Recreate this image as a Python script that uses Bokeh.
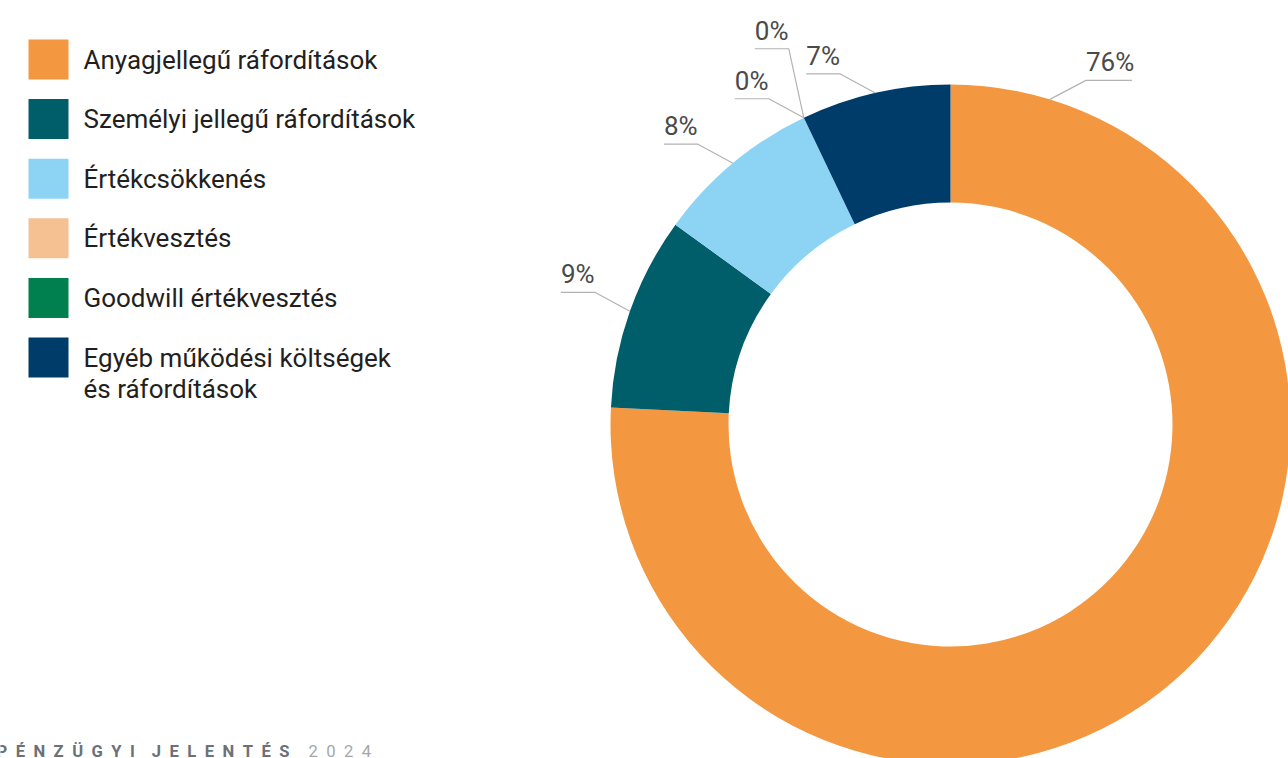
import math
from bokeh.plotting import figure
from bokeh.models import Range1d
from bokeh.embed import file_html
from bokeh.resources import INLINE
from bokeh.core.properties import value

# ---------------- data ----------------
legend_lines = [
    ["Anyagjellegű ráfordítások"],
    ["Személyi jellegű ráfordítások"],
    ["Értékcsökkenés"],
    ["Értékvesztés"],
    ["Goodwill értékvesztés"],
    ["Egyéb működési költségek", "és ráfordítások"],
]
categories = [" ".join(l) for l in legend_lines]
shares = [75.8, 9.2, 7.9, 0.0, 0.0, 7.1]
pct_labels = ["76%", "9%", "8%", "0%", "0%", "7%"]
colors = ["#F39841", "#005E6A", "#8DD4F4", "#F5C192", "#00804F", "#003C69"]
footer_main = "\u2002".join("PÉNZÜGYI") + "\u2002\u2002" + "\u2002".join("JELENTÉS")
footer_year = "\u2002".join("2024")

# ---------------- layout constants ----------------
W, H = 1288, 758
TS = 9  # svg text baseline compensation (px)
def sy(y):  # screen y -> data y
    return H - y

CX, CY = 950, sy(424)
R_OUT, R_IN = 340, 222
label_angle_override = {0: math.radians(73)}  # label of the large slice sits near the top
elbow_dx = [36, 35, 35, 35, 15, 35]
elbow_dy = [19, 19, 19, 19, 69, 19]

p = figure(width=W, height=H, output_backend="svg", toolbar_location=None,
           x_range=Range1d(0, W), y_range=Range1d(0, H),
           min_border=0, outline_line_color=None)
p.axis.visible = False
p.grid.visible = False
p.background_fill_color = "white"
p.border_fill_color = "white"

# ---------------- donut ----------------
starts, ends = [], []
cum = 0.0
for s in shares:
    starts.append(math.pi / 2 - 2 * math.pi * cum / 100.0)
    cum += s
    ends.append(math.pi / 2 - 2 * math.pi * cum / 100.0)

nz = [i for i, s in enumerate(shares) if s > 0]
p.annular_wedge(x=[CX] * len(nz), y=[CY] * len(nz),
                inner_radius=R_IN, outer_radius=R_OUT,
                start_angle=[starts[i] for i in nz], end_angle=[ends[i] for i in nz],
                direction="clock",
                fill_color=[colors[i] for i in nz], line_color=None)

# ---------------- labels with leader lines ----------------
lx, ly, tx, ty, tt = [], [], [], [], []
for i, lab in enumerate(pct_labels):
    a = label_angle_override.get(i, (starts[i] + ends[i]) / 2)
    ax, ay = CX + R_OUT * math.cos(a), CY + R_OUT * math.sin(a)
    sign = 1 if math.cos(a) > 0 else -1
    ex, ey = ax + sign * elbow_dx[i], ay + elbow_dy[i]
    seg = 10 + 12 * len(lab)
    hx = ex + sign * seg
    lx.append([ax, ex, hx])
    ly.append([ay, ey, ey])
    tx.append(min(ex, hx))
    ty.append(ey + 9 + TS)
    tt.append(lab)

p.multi_line(xs=lx, ys=ly, line_color="#B3B3B3", line_width=1.2)
p.text(x=tx, y=ty, text=tt, text_font=value("Roboto"), text_font_size="26px",
       text_color="#4A4A4A", text_align="left", text_baseline="alphabetic")

# ---------------- legend ----------------
SQ = 40
LEG_X = 28
LEG_TOP = 39
PITCH = 59.6
sq_x, sq_y, t_x, t_y, t_t = [], [], [], [], []
for i, lines in enumerate(legend_lines):
    cy_screen = LEG_TOP + SQ / 2 + PITCH * i
    sq_x.append(LEG_X + SQ / 2)
    sq_y.append(sy(cy_screen))
    for j, line in enumerate(lines):
        t_x.append(83)
        t_y.append(sy(cy_screen + 9 + 31 * j) + TS)
        t_t.append(line)

p.rect(x=sq_x, y=sq_y, width=SQ, height=SQ, fill_color=colors, line_color=None)
p.text(x=t_x, y=t_y, text=t_t, text_font=value("Roboto"), text_font_size="26px",
       text_color="#231F20", text_align="left", text_baseline="alphabetic")

# ---------------- footer ----------------
p.text(x=[-4], y=[sy(760) + TS], text=[footer_main], text_font=value("Roboto"),
       text_font_size="16.6px", text_font_style="bold", text_color="#6C7177",
       text_align="left", text_baseline="alphabetic")
p.text(x=[308], y=[sy(760) + TS], text=[footer_year], text_font=value("Roboto"),
       text_font_size="16.6px", text_color="#A3A7AB",
       text_align="left", text_baseline="alphabetic")

open("out.html", "w").write(file_html(p, INLINE))
